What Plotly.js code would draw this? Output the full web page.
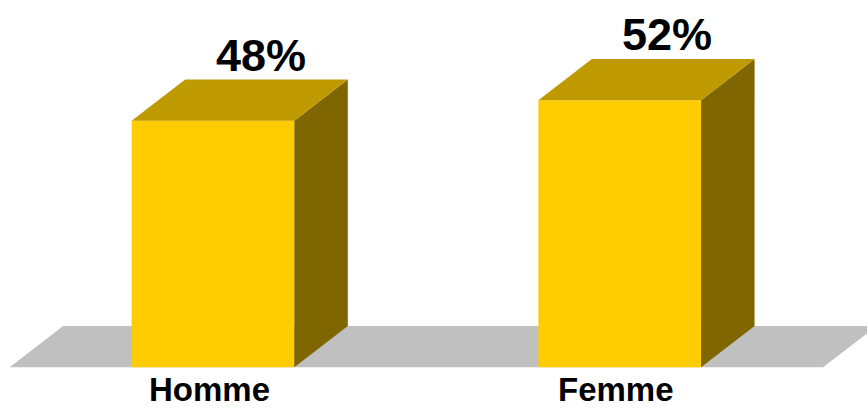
<!DOCTYPE html>
<html>
<head>
<meta charset="utf-8">
<script src="https://cdn.plot.ly/plotly-3.0.1.min.js"></script>
<style>html,body{margin:0;padding:0;background:#fff;}#chart{width:867px;height:409px;}</style>
</head>
<body>
<div id="chart"></div>
<script>
// ---- data ----
const categories = ["Homme", "Femme"];
const values = [48, 52];
const valueLabels = ["48%", "52%"];

// ---- style constants ----
const barHalf = 0.2;      // half width of the front face (category units)
const depthX = 0.1315;    // 3D depth offset, x (category units)
const depthY = 8.04;      // 3D depth offset, y (value units)
const floorHalf = 0.5;    // floor half extent beyond category centres
const cFront = "#ffcc00", cTop = "#bf9900", cSide = "#806600", cFloor = "#c0c0c0";

function poly(xs, ys, color) {
  return {type: "scatter", mode: "lines", x: xs.concat([xs[0]]), y: ys.concat([ys[0]]),
    fill: "toself", fillcolor: color, line: {width: 0, color: color},
    hoverinfo: "skip", showlegend: false};
}

const idx = categories.map((c, i) => i);
const traces = [];
// floor
const fx0 = idx[0] - floorHalf, fx1 = idx[idx.length - 1] + floorHalf;
traces.push(poly([fx0, fx1, fx1 + depthX, fx0 + depthX], [0, 0, depthY, depthY], cFloor));
// bars
idx.forEach(i => {
  const v = values[i], x0 = i - barHalf, x1 = i + barHalf;
  traces.push(poly([x0, x1, x1, x0], [0, 0, v, v], cFront));
  traces.push(poly([x1, x1 + depthX, x1 + depthX, x1], [0, depthY, v + depthY, v], cSide));
  traces.push(poly([x0, x1, x1 + depthX, x0 + depthX], [v, v, v + depthY, v + depthY], cTop));
});

const annotations = [];
idx.forEach(i => {
  annotations.push({x: i + 0.117, y: values[i] + 12.75, xref: "x", yref: "y",
    text: valueLabels[i], showarrow: false, xanchor: "center", yanchor: "middle",
    font: {family: "Liberation Sans, Arial, sans-serif", size: 45, color: "#000", weight: "bold"}});
  annotations.push({x: i - 0.008, y: -4.3, xref: "x", yref: "y",
    text: categories[i], showarrow: false, xanchor: "center", yanchor: "middle",
    font: {family: "Liberation Sans, Arial, sans-serif", size: 33, color: "#000", weight: "bold"}});
});

const layout = {
  width: 867, height: 409,
  margin: {l: 0, r: 0, t: 0, b: 0},
  paper_bgcolor: "#ffffff", plot_bgcolor: "#ffffff",
  showlegend: false,
  xaxis: {range: [-0.5237, 1.608], visible: false, fixedrange: true},
  yaxis: {range: [-8.12, 71.53], visible: false, fixedrange: true},
  annotations: annotations
};
Plotly.newPlot("chart", traces, layout, {staticPlot: true, displayModeBar: false});
</script>
</body>
</html>
